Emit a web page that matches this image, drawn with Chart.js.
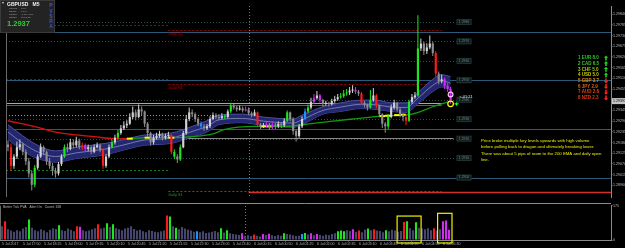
<!DOCTYPE html>
<html>
<head>
<meta charset="utf-8">
<script src="https://cdn.jsdelivr.net/npm/chart.js"></script>
<style>
  body{margin:0;background:#000;}
  #wrap{position:relative;width:625px;height:248px;background:#000;overflow:hidden;}
  canvas{position:absolute;left:0;}
  #priceChart{top:0;}
  #volChart{top:203px;}
</style>
</head>
<body>
<div id="wrap">
  <canvas id="priceChart" width="625" height="203"></canvas>
  <canvas id="volChart" width="625" height="45"></canvas>
</div>
<script>
// GBPUSD M5 candles, one entry per bar (bar index = position in array)
const openPrices = [
  1.29170,1.29156,1.29060,1.29108,1.29156,1.29171,1.29132,1.29084,1.29021,1.28963,
  1.29050,1.29108,1.29156,1.29132,1.29084,1.29060,1.29035,1.29021,1.29069,1.29108,
  1.29156,1.29147,1.29181,1.29166,1.29190,1.29156,1.29166,1.29147,1.29156,1.29132,
  1.29156,1.29166,1.29142,1.29060,1.29108,1.29156,1.29181,1.29205,1.29229,1.29253,
  1.29268,1.29277,1.29311,1.29335,1.29311,1.29350,1.29340,1.29277,1.29229,1.29181,
  1.29205,1.29214,1.29224,1.29205,1.29214,1.29219,1.29132,1.29108,1.29093,1.29156,
  1.29229,1.29301,1.29335,1.29326,1.29301,1.29277,1.29263,1.29253,1.29263,1.29301,
  1.29321,1.29311,1.29306,1.29316,1.29311,1.29340,1.29369,1.29360,1.29350,1.29355,
  1.29345,1.29350,1.29331,1.29321,1.29335,1.29272,1.29263,1.29268,1.29272,1.29258,
  1.29272,1.29263,1.29277,1.29268,1.29292,1.29335,1.29301,1.29239,1.29214,1.29263,
  1.29301,1.29340,1.29360,1.29389,1.29408,1.29422,1.29398,1.29379,1.29384,1.29379,
  1.29393,1.29403,1.29413,1.29418,1.29432,1.29437,1.29447,1.29451,1.29442,1.29432,
  1.29384,1.29374,1.29360,1.29398,1.29422,1.29369,1.29326,1.29277,1.29263,1.29311,
  1.29360,1.29384,1.29350,1.29321,1.29311,1.29292,1.29389,1.29413,1.29422,1.29664,
  1.29689,1.29650,1.29669,1.29689,1.29640,1.29534,1.29495,1.29505,1.29471,1.29456
];
const highPrices = [
  1.29190,1.29175,1.29120,1.29185,1.29195,1.29180,1.29145,1.29100,1.29035,1.29065,
  1.29120,1.29175,1.29165,1.29140,1.29100,1.29075,1.29050,1.29080,1.29120,1.29170,
  1.29175,1.29200,1.29195,1.29210,1.29200,1.29180,1.29175,1.29170,1.29165,1.29170,
  1.29180,1.29175,1.29150,1.29120,1.29170,1.29195,1.29220,1.29245,1.29270,1.29290,
  1.29295,1.29330,1.29365,1.29350,1.29375,1.29365,1.29345,1.29285,1.29235,1.29220,
  1.29230,1.29240,1.29230,1.29225,1.29235,1.29225,1.29145,1.29120,1.29170,1.29240,
  1.29320,1.29360,1.29350,1.29335,1.29310,1.29290,1.29275,1.29275,1.29315,1.29335,
  1.29330,1.29325,1.29330,1.29325,1.29350,1.29385,1.29380,1.29370,1.29370,1.29365,
  1.29365,1.29360,1.29340,1.29350,1.29340,1.29280,1.29280,1.29285,1.29280,1.29285,
  1.29280,1.29290,1.29285,1.29305,1.29345,1.29340,1.29310,1.29245,1.29275,1.29315,
  1.29355,1.29375,1.29410,1.29430,1.29445,1.29430,1.29405,1.29395,1.29390,1.29405,
  1.29420,1.29430,1.29435,1.29450,1.29455,1.29465,1.29475,1.29465,1.29450,1.29440,
  1.29395,1.29380,1.29450,1.29460,1.29430,1.29375,1.29330,1.29285,1.29325,1.29375,
  1.29400,1.29390,1.29360,1.29330,1.29325,1.29400,1.29430,1.29440,1.29834,1.29715,
  1.29700,1.29690,1.29730,1.29700,1.29650,1.29545,1.29530,1.29515,1.29485,1.29465
];
const lowPrices = [
  1.29135,1.29035,1.29045,1.29095,1.29140,1.29115,1.29065,1.29000,1.28934,1.28950,
  1.29040,1.29100,1.29115,1.29065,1.29045,1.29010,1.29000,1.29010,1.29060,1.29100,
  1.29130,1.29140,1.29150,1.29155,1.29145,1.29140,1.29135,1.29135,1.29120,1.29125,
  1.29150,1.29130,1.29045,1.29050,1.29100,1.29150,1.29170,1.29195,1.29220,1.29245,
  1.29255,1.29270,1.29300,1.29295,1.29305,1.29320,1.29260,1.29210,1.29165,1.29170,
  1.29195,1.29205,1.29190,1.29195,1.29205,1.29120,1.29095,1.29075,1.29085,1.29150,
  1.29220,1.29290,1.29310,1.29285,1.29265,1.29250,1.29240,1.29245,1.29255,1.29295,
  1.29300,1.29295,1.29300,1.29300,1.29305,1.29330,1.29350,1.29340,1.29345,1.29335,
  1.29340,1.29320,1.29310,1.29315,1.29260,1.29250,1.29255,1.29260,1.29245,1.29250,
  1.29250,1.29255,1.29255,1.29260,1.29285,1.29290,1.29220,1.29185,1.29205,1.29255,
  1.29295,1.29330,1.29350,1.29380,1.29400,1.29385,1.29365,1.29370,1.29365,1.29370,
  1.29385,1.29395,1.29405,1.29410,1.29420,1.29425,1.29435,1.29430,1.29420,1.29370,
  1.29360,1.29345,1.29355,1.29390,1.29355,1.29310,1.29255,1.29230,1.29250,1.29305,
  1.29350,1.29340,1.29310,1.29290,1.29270,1.29285,1.29380,1.29405,1.29415,1.29650,
  1.29630,1.29635,1.29660,1.29625,1.29520,1.29480,1.29485,1.29455,1.29440,1.29380
];
const closePrices = [
  1.29156,1.29060,1.29108,1.29156,1.29171,1.29132,1.29084,1.29021,1.28963,1.29050,
  1.29108,1.29156,1.29132,1.29084,1.29060,1.29035,1.29021,1.29069,1.29108,1.29156,
  1.29147,1.29181,1.29166,1.29190,1.29156,1.29166,1.29147,1.29156,1.29132,1.29156,
  1.29166,1.29142,1.29060,1.29108,1.29156,1.29181,1.29205,1.29229,1.29253,1.29268,
  1.29277,1.29311,1.29335,1.29311,1.29350,1.29340,1.29277,1.29229,1.29181,1.29205,
  1.29214,1.29224,1.29205,1.29214,1.29219,1.29132,1.29108,1.29093,1.29156,1.29229,
  1.29301,1.29335,1.29326,1.29301,1.29277,1.29263,1.29253,1.29263,1.29301,1.29321,
  1.29311,1.29306,1.29316,1.29311,1.29340,1.29369,1.29360,1.29350,1.29355,1.29345,
  1.29350,1.29331,1.29321,1.29335,1.29272,1.29263,1.29268,1.29272,1.29258,1.29272,
  1.29263,1.29277,1.29268,1.29292,1.29335,1.29301,1.29239,1.29214,1.29263,1.29301,
  1.29340,1.29360,1.29389,1.29408,1.29422,1.29398,1.29379,1.29384,1.29379,1.29393,
  1.29403,1.29413,1.29418,1.29432,1.29437,1.29447,1.29451,1.29442,1.29432,1.29384,
  1.29374,1.29360,1.29398,1.29422,1.29369,1.29326,1.29277,1.29263,1.29311,1.29360,
  1.29384,1.29350,1.29321,1.29311,1.29292,1.29389,1.29413,1.29422,1.29664,1.29689,
  1.29650,1.29669,1.29689,1.29640,1.29534,1.29495,1.29505,1.29471,1.29456,1.29393
];
const volumes = [
  70,95,55,48,42,50,45,58,66,105,
  62,50,45,55,48,40,52,60,56,75,
  50,46,58,52,44,70,68,50,45,48,
  55,60,80,58,62,85,66,80,60,55,
  50,58,62,70,56,48,52,44,40,50,
  46,42,40,44,48,125,120,70,62,55,
  66,58,52,48,42,45,40,44,36,38,
  42,46,40,60,38,50,34,30,28,26,
  35,22,24,20,28,22,18,30,26,32,
  24,20,26,22,35,30,28,24,20,22,
  30,36,28,34,24,30,26,22,28,24,
  30,35,45,48,44,50,46,55,42,48,
  40,52,58,50,55,48,46,40,50,44,
  52,48,42,46,92,96,60,50,90,62,
  58,55,60,50,60,48,55,95,100,52
];
// PVSRA bar classes
const redBars = [1, 25, 32, 55, 84, 119, 124, 134, 144];
const greenBars = [9, 19, 35, 37, 56, 58, 73, 75, 94, 101, 112, 113, 114, 122, 128, 135, 138];
const magentaBars = [26, 80, 87, 89, 103, 105, 117, 147, 148, 149];
const blueBars = [65, 100];

// dragon band and 200 EMA
const dragonBars = [0,5,10,16,23,33,39,46,55,62,67,71,79,86,96,99,106,112,119,124,129,134,138,143,146,149];
const dragonTop = [1.29272,1.29214,1.29166,1.29137,1.29156,1.29176,1.29195,1.29219,1.29229,1.29263,1.29292,1.29321,1.29326,1.29311,1.29301,1.29321,1.29364,1.29384,1.29398,1.29398,1.29384,1.29384,1.29437,1.29505,1.29529,1.29519];
const dragonMid = [1.29234,1.29176,1.29132,1.29108,1.29127,1.29147,1.29168,1.29193,1.29203,1.29237,1.29263,1.29297,1.29304,1.29290,1.29280,1.29297,1.29345,1.29362,1.29377,1.29374,1.29362,1.29360,1.29408,1.29474,1.29498,1.29485];
const dragonBottom = [1.29195,1.29137,1.29098,1.29079,1.29098,1.29118,1.29142,1.29166,1.29176,1.29210,1.29234,1.29272,1.29282,1.29268,1.29258,1.29272,1.29326,1.29340,1.29355,1.29350,1.29340,1.29335,1.29379,1.29442,1.29466,1.29451];
const emaBars = [0,10,16,23,29,36,41,47,55,62,69,73,83,93,102,116,126,136,143,146,149];
const emaValues = [1.29292,1.29258,1.29234,1.29219,1.29210,1.29200,1.29200,1.29205,1.29205,1.29210,1.29224,1.29248,1.29263,1.29263,1.29277,1.29301,1.29316,1.29326,1.29364,1.29379,1.29393];
const touchBars = [41, 47, 55, 86, 88, 126, 128, 131, 133];
const touchPrices = [1.29200, 1.29205, 1.29205, 1.29263, 1.29263, 1.29316, 1.29318, 1.29321, 1.29323];
const markerBars = [149, 149, 151];
const markerPrices = [1.29427, 1.29379, 1.29379];

// horizontal levels
const keyLevels = [1.2980, 1.2970, 1.2960, 1.2950, 1.2940, 1.2930, 1.2920, 1.2910, 1.2900, 1.2890];
const quarterLevels = [1.2975, 1.2950, 1.2925, 1.2900];
const pivotNames = ['Daily R2', 'Daily R1', 'Daily S1'];
const prevPivots = [1.29785, 1.29505, 1.29040];
const todayPivots = [1.29761, 1.29480, 1.28929];
const openLines = [1.29384, 1.29374];
const midLine = 1.29321;
const lowGrayLine = 1.29205;
const redLevel = 1.28924;
const daySeparatorBar = 81;

// axes
const priceTicks = [1.29840,1.29785,1.29730,1.29675,1.29620,1.29565,1.29510,1.29455,1.29400,1.29345,1.29290,1.29235,1.29180,1.29125,1.29070,1.29015,1.28960];
const volumeTicks = [0, 175];
const timeTickBars = [0,7,14,21,28,35,42,49,56,63,70,77,84,91,98,105,112,119,126,133,140,147];
const timeLabels = ['5 Jul 2017','5 Jul 17:50','5 Jul 18:25','5 Jul 19:00','5 Jul 19:35','5 Jul 20:10','5 Jul 20:45','5 Jul 21:20','5 Jul 21:55','5 Jul 22:30','5 Jul 23:05','5 Jul 23:40','6 Jul 00:15','6 Jul 00:50','6 Jul 01:25','6 Jul 02:00','6 Jul 02:35','6 Jul 03:10','6 Jul 03:45','6 Jul 04:20','6 Jul 04:55','6 Jul 05:30'];

// currency strength meter
const currencies = ['EUR', 'CAD', 'CHF', 'USD', 'GBP', 'JPY', 'AUD', 'NZD'];
const strengths = [8.0, 6.5, 5.0, 5.0, 3.7, 2.9, 2.6, 2.3];
const strengthUp = [true, true, true, true, false, false, false, false];

const noteLines = [
  'Price broke multiple key levels upwards with high volume',
  'before pulling back to dragon and ultimately breaking lower.',
  'There was about 5 pips of room to the 200 EMA and daily open',
  'line.'
];

const FONT = '"Liberation Sans", Arial, sans-serif';
const xMin = -0.67, xMax = 203;

function colorOf(i) {
  if (redBars.includes(i)) return '#ff1a1a';
  if (greenBars.includes(i)) return '#1ee61e';
  if (magentaBars.includes(i)) return '#d22cf0';
  if (blueBars.includes(i)) return '#1e90ff';
  return null;
}
const candleColors = closePrices.map((c, i) => colorOf(i) || (c >= openPrices[i] ? '#d2d2d2' : '#8e8e8e'));
const volColors = volumes.map((v, i) => colorOf(i) || '#46466c');

function hline(ctx, x0, x1, y, color, w, dash) {
  ctx.save();
  ctx.strokeStyle = color;
  ctx.lineWidth = w;
  ctx.setLineDash(dash || []);
  const yy = Math.round(y) + 0.5;
  ctx.beginPath(); ctx.moveTo(x0, yy); ctx.lineTo(x1, yy); ctx.stroke();
  ctx.restore();
}
function vline(ctx, x, y0, y1, color, dash) {
  ctx.save();
  ctx.strokeStyle = color;
  ctx.lineWidth = 1;
  ctx.setLineDash(dash || []);
  const xx = Math.round(x) + 0.5;
  ctx.beginPath(); ctx.moveTo(xx, y0); ctx.lineTo(xx, y1); ctx.stroke();
  ctx.restore();
}
function txt(ctx, s, x, y, color, font, align) {
  ctx.save();
  ctx.fillStyle = color;
  ctx.font = font;
  ctx.textAlign = align || 'left';
  ctx.textBaseline = 'middle';
  ctx.fillText(s, x, y);
  ctx.restore();
}
function arrow(ctx, x, y, up, color) {
  ctx.save();
  ctx.fillStyle = color;
  ctx.beginPath();
  const d = up ? -1 : 1;
  ctx.moveTo(x, y + d * 2.6);
  ctx.lineTo(x - 2.2, y + d * 0.3);
  ctx.lineTo(x - 0.8, y + d * 0.3);
  ctx.lineTo(x - 0.8, y - d * 2.4);
  ctx.lineTo(x + 0.8, y - d * 2.4);
  ctx.lineTo(x + 0.8, y + d * 0.3);
  ctx.lineTo(x + 2.2, y + d * 0.3);
  ctx.closePath();
  ctx.fill();
  ctx.restore();
}

const priceOverlay = {
  id: 'priceOverlay',
  beforeDatasetsDraw(chart) {
    const {ctx, chartArea: a, scales: {x, y}} = chart;
    const bx = i => x.getPixelForValue(i);
    const py = p => y.getPixelForValue(p);
    ctx.save();
    ctx.beginPath(); ctx.rect(a.left, a.top, a.right - a.left, a.bottom - a.top); ctx.clip();
    keyLevels.forEach(p => hline(ctx, a.left, bx(151), py(p), '#35494b', 1, [1, 2]));
    quarterLevels.forEach(p => hline(ctx, a.left, a.right, py(p), '#2d5a78', 1));
    prevPivots.forEach((p, k) => hline(ctx, a.left, bx(54), py(p), k < 2 ? '#a80000' : '#157a15', 1, [2, 2]));
    todayPivots.forEach((p, k) => hline(ctx, bx(54), bx(146), py(p), k < 2 ? '#a80000' : '#157a15', 1, [2, 2]));
    hline(ctx, a.left, bx(146), py(openLines[0]), '#a8a8a8', 1);
    hline(ctx, a.left, bx(146), py(openLines[1]), '#5c5c5c', 1);
    hline(ctx, a.left, bx(84), py(midLine), '#9a9a9a', 1, [1, 2]);
    hline(ctx, bx(54), bx(150), py(lowGrayLine), '#8a8a8a', 1);
    hline(ctx, bx(daySeparatorBar), a.right, py(redLevel), '#d03030', 1.5);
    vline(ctx, bx(daySeparatorBar), a.top, a.bottom, '#7a7a7a', [1, 2]);
    vline(ctx, a.left, a.top, a.bottom, '#6a6a6a');
    ctx.restore();
  },
  afterDraw(chart) {
    const {ctx, chartArea: a, scales: {x, y}} = chart;
    const bx = i => x.getPixelForValue(i);
    const py = p => y.getPixelForValue(p);
    const tiny = '3.4px ' + FONT;

    // round number boxes
    keyLevels.forEach(p => {
      const yy = py(p);
      if (yy < 2 || yy > a.bottom - 1) return;
      ctx.fillStyle = '#0f1c1c';
      ctx.fillRect(bx(151), yy - 3, 15, 6);
      ctx.strokeStyle = '#2c3f3f';
      ctx.lineWidth = 0.6;
      ctx.strokeRect(bx(151) + 0.5, yy - 2.5, 14, 5);
      txt(ctx, p.toFixed(4), bx(151) + 7.5, yy, '#6f8484', tiny, 'center');
    });

    // pivot labels
    pivotNames.forEach((n, k) => {
      txt(ctx, n, bx(54), py(todayPivots[k]) + 4, k < 2 ? '#c80000' : '#1aa01a', '3.8px ' + FONT, 'left');
    });

    // last candle timer
    txt(ctx, '<-01:21', bx(152), py(1.29413), '#e8e8e8', '3.8px ' + FONT, 'left');

    // note
    noteLines.forEach((s, k) => txt(ctx, s, 481, 141 + k * 6.3, '#eeee00', '4.3px ' + FONT, 'left'));

    // currency strength meter
    const sCols = ['#22cc22', '#44c622', '#a8c800', '#cccc00', '#e08a10', '#e06010', '#e04a10', '#e03a10'];
    currencies.forEach((c, k) => {
      const yy = 58 + k * 5.7;
      txt(ctx, (k + 1) + ' ' + c + ' ' + strengths[k].toFixed(1), 578, yy, sCols[k], 'bold 4.5px ' + FONT, 'left');
      arrow(ctx, 606, yy, strengthUp[k], strengthUp[k] ? '#20d020' : '#ff2020');
    });

    // info panel
    ctx.fillStyle = '#232323';
    ctx.fillRect(0, 0, 55, 33);
    ctx.strokeStyle = '#3a3a3a';
    ctx.lineWidth = 1;
    ctx.strokeRect(0.5, 0.5, 54, 32);
    txt(ctx, '\u25BE', 2, 3, '#cccccc', '4px ' + FONT, 'left');
    txt(ctx, 'GBPUSD   M5', 7, 4.5, '#f0f0f0', 'bold 5px ' + FONT, 'left');
    const info = [['Spread', '0.00'], ['Range', '61.94'], ['Swaps', '-0.53 -0.27'], ['Candle', '00:01:21']];
    info.forEach((r, k) => {
      txt(ctx, r[0], 9, 8.6 + k * 2.8, '#a0a0a0', '2.5px ' + FONT, 'left');
      txt(ctx, r[1], 21, 8.6 + k * 2.8, '#a0a0a0', '2.5px ' + FONT, 'left');
    });
    txt(ctx, '1.2937', 7, 24, '#33cc33', 'bold 7.5px ' + FONT, 'left');
    'PVSRA'.split('').forEach((ch, k) => txt(ctx, ch, 51, 6 + k * 5.2, '#3c58d0', 'bold 5px ' + FONT, 'center'));

    // current price on the axis
    const last = closePrices[closePrices.length - 1];
    const ly = py(last);
    ctx.fillStyle = '#c4c4c4';
    ctx.fillRect(a.right + 1, ly - 3, 14, 6);
    txt(ctx, last.toFixed(5), a.right + 2, ly, '#000000', '3.6px ' + FONT, 'left');
  }
};

const volOverlay = {
  id: 'volOverlay',
  beforeDatasetsDraw(chart) {
    const {ctx, chartArea: a, scales: {x}} = chart;
    vline(ctx, x.getPixelForValue(daySeparatorBar), 0, a.bottom, '#7a7a7a', [1, 2]);
    vline(ctx, a.left, a.top, a.bottom, '#6a6a6a');
  },
  afterDraw(chart) {
    const {ctx, chartArea: a, scales: {x, y}} = chart;
    hline(ctx, 0, a.right, 0, '#8a8a8a', 1);
    txt(ctx, 'Better Tick PVA   Alert On   Count: 168', 3, 3.6, '#b4b4b4', '3.4px ' + FONT, 'left');
    // highlighted volume clusters
    const boxes = [[131.7, 139.7, 122], [145.2, 150, 136]];
    ctx.save();
    ctx.strokeStyle = '#f0f000';
    ctx.lineWidth = 1.2;
    boxes.forEach(b => {
      const x0 = x.getPixelForValue(b[0]), x1 = x.getPixelForValue(b[1]);
      const y0 = y.getPixelForValue(b[2]);
      ctx.strokeRect(x0, y0, x1 - x0, a.bottom + 3 - y0);
    });
    ctx.restore();
  }
};

const axisFont = {size: 3.6, family: FONT};

new Chart(document.getElementById('priceChart'), {
  type: 'bar',
  data: {
    datasets: [
      {
        type: 'line',
        data: dragonBars.map((b, k) => ({x: b, y: dragonTop[k]})),
        fill: '+1',
        backgroundColor: 'rgba(38,42,122,0.92)',
        borderColor: '#4c509c',
        borderWidth: 1,
        pointRadius: 0,
        cubicInterpolationMode: 'monotone',
        order: 10
      },
      {
        type: 'line',
        data: dragonBars.map((b, k) => ({x: b, y: dragonBottom[k]})),
        fill: false,
        borderColor: '#4c509c',
        borderWidth: 1,
        pointRadius: 0,
        cubicInterpolationMode: 'monotone',
        order: 10
      },
      {
        type: 'line',
        data: dragonBars.map((b, k) => ({x: b, y: dragonMid[k]})),
        fill: false,
        borderColor: '#8c8fb6',
        borderWidth: 0.8,
        pointRadius: 0,
        cubicInterpolationMode: 'monotone',
        order: 9
      },
      {
        type: 'line',
        data: emaBars.map((b, k) => ({x: b, y: emaValues[k]})),
        fill: false,
        borderWidth: 1.3,
        pointRadius: 0,
        cubicInterpolationMode: 'monotone',
        segment: {borderColor: c => c.p0.parsed.x < 41 ? '#d41414' : '#0f9a0f'},
        order: 6
      },
      {
        type: 'line',
        data: touchBars.map((b, k) => ({x: b, y: touchPrices[k]})),
        showLine: false,
        pointStyle: 'line',
        pointRadius: 3,
        pointBorderColor: '#ffff00',
        pointBorderWidth: 2,
        order: 5
      },
      {
        data: closePrices.map((c, i) => ({x: i, y: [lowPrices[i], highPrices[i]]})),
        backgroundColor: candleColors,
        grouped: false,
        barPercentage: 0.34,
        categoryPercentage: 1,
        order: 4
      },
      {
        data: closePrices.map((c, i) => ({x: i, y: [openPrices[i], c]})),
        backgroundColor: candleColors,
        grouped: false,
        barPercentage: 0.72,
        categoryPercentage: 1,
        minBarLength: 1,
        order: 3
      },
      {
        type: 'line',
        data: markerBars.map((b, k) => ({x: b, y: markerPrices[k]})),
        showLine: false,
        pointStyle: ['circle', 'circle', 'cross'],
        pointRadius: [2.4, 2.8, 2],
        pointBorderColor: ['#ffc0ff', '#ffff00', '#22ff22'],
        pointBackgroundColor: 'rgba(0,0,0,0)',
        pointBorderWidth: 1.2,
        order: 1
      }
    ]
  },
  options: {
    responsive: false,
    animation: false,
    devicePixelRatio: 1,
    events: [],
    layout: {padding: 0},
    plugins: {legend: {display: false}, tooltip: {enabled: false}},
    scales: {
      x: {type: 'linear', min: xMin, max: xMax, offset: false, display: false},
      y: {
        position: 'right',
        min: 1.28900,
        max: 1.29882,
        afterBuildTicks: s => { s.ticks = priceTicks.map(v => ({value: v})); },
        afterFit: s => { s.width = 14; },
        grid: {drawOnChartArea: false, color: '#8a8a8a', tickLength: 1.5},
        border: {color: '#8a8a8a'},
        ticks: {color: '#bdbdbd', font: axisFont, padding: 0.5, callback: v => v.toFixed(5)}
      }
    }
  },
  plugins: [priceOverlay]
});

new Chart(document.getElementById('volChart'), {
  type: 'bar',
  data: {
    datasets: [{
      data: volumes.map((v, i) => ({x: i, y: v})),
      backgroundColor: volColors,
      grouped: false,
      barPercentage: 0.7,
      categoryPercentage: 1
    }]
  },
  options: {
    responsive: false,
    animation: false,
    devicePixelRatio: 1,
    events: [],
    layout: {padding: {top: 1}},
    plugins: {legend: {display: false}, tooltip: {enabled: false}},
    scales: {
      x: {
        type: 'linear', min: xMin, max: xMax, offset: false,
        afterBuildTicks: s => { s.ticks = timeTickBars.map(v => ({value: v})); },
        afterFit: s => { s.height = 8; },
        grid: {drawOnChartArea: false, color: '#8a8a8a', tickLength: 1.5},
        border: {color: '#8a8a8a'},
        ticks: {
          color: '#b4b4b4', font: axisFont, padding: 0.5, autoSkip: false, maxRotation: 0, align: 'start',
          callback: (v, idx) => timeLabels[idx]
        }
      },
      y: {
        position: 'right',
        min: 0,
        max: 175,
        afterBuildTicks: s => { s.ticks = volumeTicks.map(v => ({value: v})); },
        afterFit: s => { s.width = 14; },
        grid: {drawOnChartArea: false, color: '#8a8a8a', tickLength: 1.5},
        border: {color: '#8a8a8a'},
        ticks: {color: '#bdbdbd', font: axisFont, padding: 0.5, callback: v => String(v)}
      }
    }
  },
  plugins: [volOverlay]
});
</script>
</body>
</html>
